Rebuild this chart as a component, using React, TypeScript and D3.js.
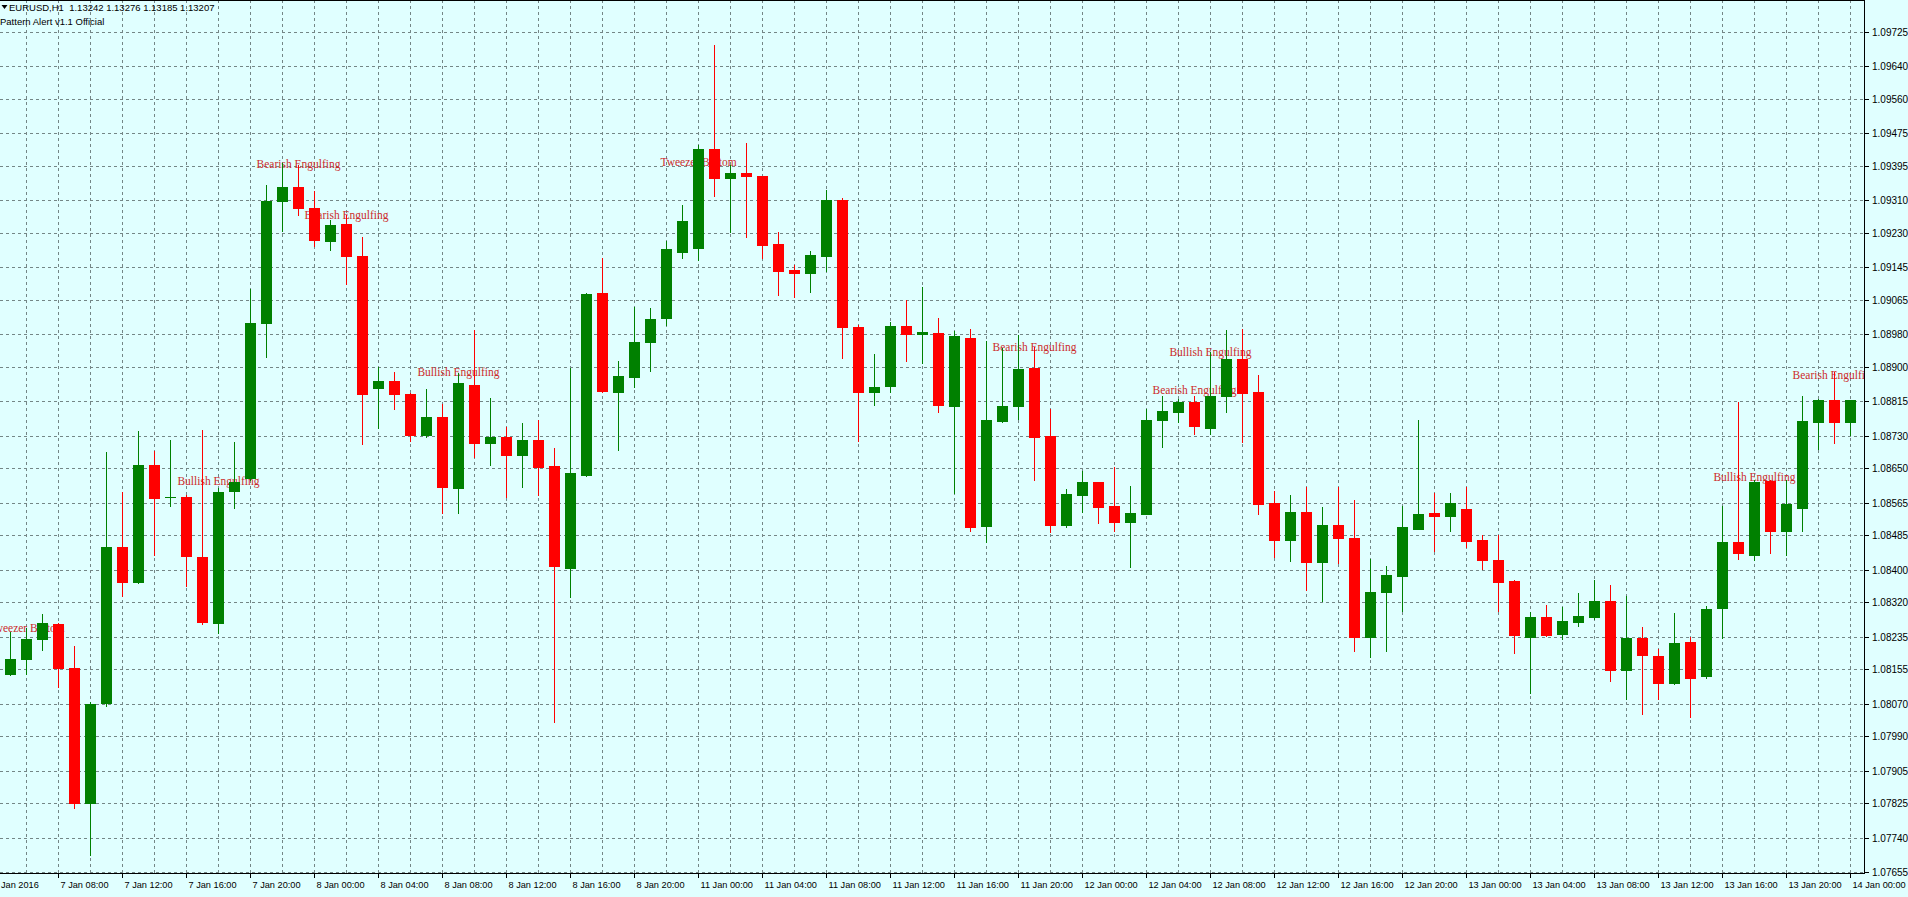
import React, { useEffect, useRef } from 'react';
import * as d3 from 'd3';

// EURUSD H1, bars from 7 Jan 05:00 to 14 Jan 00:00 (weekend skipped)
const OPEN = [
  1.08143, 1.08180, 1.08230, 1.08265, 1.08158, 1.07825, 1.08072, 1.08455, 1.08370, 1.08659,
  1.08579, 1.08579, 1.08432, 1.08269, 1.08593, 1.08625, 1.09007, 1.09309, 1.09342, 1.09292,
  1.09209, 1.09253, 1.09174, 1.08847, 1.08865, 1.08832, 1.08731, 1.08776, 1.08602, 1.08856,
  1.08712, 1.08726, 1.08683, 1.08719, 1.08655, 1.08405, 1.08633, 1.09081, 1.08839, 1.08875,
  1.08960, 1.09019, 1.09184, 1.09193, 1.09437, 1.09366, 1.09377, 1.09369, 1.09203, 1.09139,
  1.09130, 1.09174, 1.09311, 1.08999, 1.08837, 1.08852, 1.09000, 1.08982, 1.08984, 1.08803,
  1.08972, 1.08507, 1.08766, 1.08803, 1.08897, 1.08729, 1.08511, 1.08585, 1.08615, 1.08556,
  1.08517, 1.08538, 1.08769, 1.08789, 1.08814, 1.08749, 1.08827, 1.08918, 1.08839, 1.08564,
  1.08472, 1.08543, 1.08420, 1.08509, 1.08478, 1.08234, 1.08345, 1.08385, 1.08501, 1.08540,
  1.08532, 1.08550, 1.08474, 1.08424, 1.08371, 1.08235, 1.08284, 1.08241, 1.08270, 1.08284,
  1.08324, 1.08154, 1.08231, 1.08188, 1.08120, 1.08223, 1.08137, 1.08305, 1.08469, 1.08436,
  1.08618, 1.08495, 1.08553, 1.08765, 1.08818, 1.08763,
];
const HIGH = [
  1.08247, 1.08256, 1.08290, 1.08268, 1.08213, 1.08075, 1.08689, 1.08591, 1.08741, 1.08693,
  1.08719, 1.08583, 1.08744, 1.08602, 1.08714, 1.09092, 1.09347, 1.09402, 1.09398, 1.09332,
  1.09261, 1.09273, 1.09220, 1.08900, 1.08886, 1.08835, 1.08845, 1.08809, 1.08885, 1.08991,
  1.08822, 1.08752, 1.08761, 1.08768, 1.08701, 1.08898, 1.09081, 1.09167, 1.08915, 1.09048,
  1.09044, 1.09211, 1.09299, 1.09447, 1.09693, 1.09397, 1.09451, 1.09370, 1.09233, 1.09151,
  1.09186, 1.09336, 1.09315, 1.09003, 1.08932, 1.09011, 1.09065, 1.09097, 1.09020, 1.08988,
  1.08994, 1.08963, 1.08946, 1.08979, 1.08948, 1.08797, 1.08599, 1.08644, 1.08615, 1.08654,
  1.08607, 1.08797, 1.08829, 1.08821, 1.08829, 1.08936, 1.08990, 1.08994, 1.08879, 1.08594,
  1.08585, 1.08604, 1.08554, 1.08604, 1.08571, 1.08427, 1.08410, 1.08558, 1.08769, 1.08589,
  1.08590, 1.08604, 1.08486, 1.08485, 1.08375, 1.08295, 1.08314, 1.08308, 1.08343, 1.08374,
  1.08362, 1.08336, 1.08259, 1.08205, 1.08293, 1.08233, 1.08310, 1.08558, 1.08813, 1.08620,
  1.08621, 1.08620, 1.08829, 1.08820, 1.08886, 1.08818,
];
const LOW = [
  1.08140, 1.08143, 1.08202, 1.08111, 1.07812, 1.07698, 1.08065, 1.08336, 1.08366, 1.08437,
  1.08557, 1.08361, 1.08266, 1.08245, 1.08551, 1.08620, 1.08925, 1.09234, 1.09275, 1.09198,
  1.09188, 1.09103, 1.08710, 1.08748, 1.08796, 1.08717, 1.08726, 1.08540, 1.08540, 1.08677,
  1.08659, 1.08578, 1.08604, 1.08585, 1.08024, 1.08333, 1.08630, 1.08839, 1.08695, 1.08851,
  1.08890, 1.09003, 1.09167, 1.09164, 1.09322, 1.09233, 1.09221, 1.09168, 1.09077, 1.09073,
  1.09085, 1.09135, 1.08921, 1.08716, 1.08806, 1.08839, 1.08914, 1.08910, 1.08789, 1.08590,
  1.08496, 1.08468, 1.08764, 1.08772, 1.08620, 1.08493, 1.08506, 1.08542, 1.08514, 1.08496,
  1.08406, 1.08536, 1.08702, 1.08764, 1.08735, 1.08735, 1.08789, 1.08714, 1.08538, 1.08431,
  1.08421, 1.08349, 1.08322, 1.08416, 1.08199, 1.08186, 1.08199, 1.08298, 1.08500, 1.08446,
  1.08495, 1.08456, 1.08401, 1.08298, 1.08195, 1.08095, 1.08236, 1.08230, 1.08262, 1.08278,
  1.08126, 1.08081, 1.08044, 1.08081, 1.08119, 1.08036, 1.08134, 1.08231, 1.08427, 1.08423,
  1.08440, 1.08437, 1.08495, 1.08697, 1.08711, 1.08731,
];
const CLOSE = [
  1.08180, 1.08228, 1.08268, 1.08158, 1.07825, 1.08069, 1.08455, 1.08370, 1.08659, 1.08577,
  1.08580, 1.08434, 1.08271, 1.08591, 1.08617, 1.09007, 1.09308, 1.09342, 1.09292, 1.09212,
  1.09249, 1.09172, 1.08832, 1.08865, 1.08832, 1.08731, 1.08776, 1.08604, 1.08860, 1.08712,
  1.08727, 1.08683, 1.08719, 1.08654, 1.08408, 1.08638, 1.09079, 1.08841, 1.08878, 1.08962,
  1.09018, 1.09190, 1.09260, 1.09437, 1.09365, 1.09377, 1.09369, 1.09200, 1.09135, 1.09130,
  1.09176, 1.09311, 1.08999, 1.08837, 1.08850, 1.09000, 1.08981, 1.08985, 1.08806, 1.08975,
  1.08505, 1.08768, 1.08803, 1.08894, 1.08726, 1.08511, 1.08587, 1.08617, 1.08554, 1.08517,
  1.08540, 1.08769, 1.08790, 1.08814, 1.08754, 1.08829, 1.08918, 1.08835, 1.08562, 1.08474,
  1.08543, 1.08420, 1.08509, 1.08479, 1.08235, 1.08346, 1.08388, 1.08504, 1.08538, 1.08532,
  1.08565, 1.08471, 1.08423, 1.08370, 1.08238, 1.08284, 1.08240, 1.08273, 1.08286, 1.08324,
  1.08154, 1.08231, 1.08190, 1.08120, 1.08220, 1.08134, 1.08303, 1.08469, 1.08440, 1.08616,
  1.08495, 1.08563, 1.08767, 1.08818, 1.08763, 1.08817,
];

const PRICE_TICKS = [
  1.09725, 1.0964, 1.0956, 1.09475, 1.09395, 1.0931, 1.0923, 1.09145, 1.09065, 1.0898,
  1.089, 1.08815, 1.0873, 1.0865, 1.08565, 1.08485, 1.084, 1.0832, 1.08235, 1.08155,
  1.0807, 1.0799, 1.07905, 1.07825, 1.0774, 1.07655,
];

// one label every 4 bars, the first one sits on the bar before the first visible bar
const TIME_LABELS = [
  'Jan 2016', '7 Jan 08:00', '7 Jan 12:00', '7 Jan 16:00', '7 Jan 20:00',
  '8 Jan 00:00', '8 Jan 04:00', '8 Jan 08:00', '8 Jan 12:00', '8 Jan 16:00', '8 Jan 20:00',
  '11 Jan 00:00', '11 Jan 04:00', '11 Jan 08:00', '11 Jan 12:00', '11 Jan 16:00', '11 Jan 20:00',
  '12 Jan 00:00', '12 Jan 04:00', '12 Jan 08:00', '12 Jan 12:00', '12 Jan 16:00', '12 Jan 20:00',
  '13 Jan 00:00', '13 Jan 04:00', '13 Jan 08:00', '13 Jan 12:00', '13 Jan 16:00', '13 Jan 20:00',
  '14 Jan 00:00',
];

const PATTERN_BARS = [1, 13, 18, 21, 28, 43, 64, 74, 75, 109, 114];
const PATTERN_NAMES = [
  'Tweezer Bottom', 'Bullish Engulfing', 'Bearish Engulfing', 'Bearish Engulfing',
  'Bullish Engulfing', 'Tweezer Bottom', 'Bearish Engulfing', 'Bearish Engulfing',
  'Bullish Engulfing', 'Bullish Engulfing', 'Bearish Engulfing',
];
const PATTERN_PRICES = [
  1.08256, 1.08619, 1.094, 1.09275, 1.08887, 1.09405, 1.08948, 1.08843, 1.08936, 1.08628, 1.0888,
];

const WIDTH = 1908;
const HEIGHT = 897;

const App: React.FC = () => {
  const ref = useRef<SVGSVGElement | null>(null);

  useEffect(() => {
    document.body.style.margin = '0';
    if (!ref.current) return;
    const svg = d3.select(ref.current);
    svg.selectAll('*').remove();

    const plotRight = 1864;
    const plotBottom = 873;
    const uiFont = "'Liberation Sans', Arial, sans-serif";

    const x = d3.scaleLinear().domain([0, OPEN.length - 1]).range([10.5, 10.5 + 16 * (OPEN.length - 1)]);
    const y = d3.scaleLinear().domain([1.07655, 1.09725]).range([872, 32]);
    const py = (v: number) => Math.round(y(v));

    svg.append('rect').attr('width', WIDTH).attr('height', HEIGHT).attr('fill', '#e0ffff');

    svg.append('defs').append('clipPath').attr('id', 'plot-clip')
      .append('rect').attr('x', 0).attr('y', 0).attr('width', plotRight).attr('height', plotBottom);

    const plot = svg.append('g').attr('clip-path', 'url(#plot-clip)');

    // grid
    plot.selectAll('line.hgrid')
      .data(PRICE_TICKS)
      .enter()
      .append('line')
      .attr('x1', 0).attr('x2', plotRight)
      .attr('y1', (d) => py(d) + 0.5).attr('y2', (d) => py(d) + 0.5)
      .attr('stroke', '#748686').attr('stroke-dasharray', '3,3');

    plot.selectAll('line.vgrid')
      .data(d3.range(-1, OPEN.length, 2))
      .enter()
      .append('line')
      .attr('x1', (d) => x(d)).attr('x2', (d) => x(d))
      .attr('y1', 0).attr('y2', plotBottom)
      .attr('stroke', '#748686').attr('stroke-dasharray', '3,3');

    // pattern labels (under the candles)
    plot.selectAll('text.pattern')
      .data(PATTERN_BARS)
      .enter()
      .append('text')
      .attr('x', (d) => x(d))
      .attr('y', (d, i) => y(PATTERN_PRICES[i]))
      .attr('text-anchor', 'middle')
      .attr('dominant-baseline', 'central')
      .attr('font-family', "'Liberation Serif', 'Times New Roman', serif")
      .attr('font-size', 11.5)
      .attr('fill', '#cc2b2b')
      .text((d, i) => PATTERN_NAMES[i]);

    // candles
    const bars = plot.selectAll('g.bar')
      .data(OPEN.map((o, i) => ({ i, o, h: HIGH[i], l: LOW[i], c: CLOSE[i] })))
      .enter()
      .append('g');

    const colour = (d: any) => (d.c >= d.o ? '#008000' : '#ff0000');

    bars.append('line')
      .attr('x1', (d) => x(d.i)).attr('x2', (d) => x(d.i))
      .attr('y1', (d) => py(d.h)).attr('y2', (d) => py(d.l) + 1)
      .attr('stroke', colour);

    bars.append('rect')
      .attr('x', (d) => x(d.i) - 5.5)
      .attr('width', 11)
      .attr('y', (d) => py(Math.max(d.o, d.c)))
      .attr('height', (d) => py(Math.min(d.o, d.c)) - py(Math.max(d.o, d.c)) + 1)
      .attr('fill', colour);

    // frame
    svg.append('line').attr('x1', 0).attr('x2', plotRight).attr('y1', 0.5).attr('y2', 0.5).attr('stroke', '#000');
    svg.append('line').attr('x1', plotRight + 0.5).attr('x2', plotRight + 0.5).attr('y1', 0).attr('y2', plotBottom + 1).attr('stroke', '#000');
    svg.append('line').attr('x1', 0).attr('x2', plotRight + 1).attr('y1', plotBottom + 0.5).attr('y2', plotBottom + 0.5).attr('stroke', '#000');

    // price axis
    const pAxis = svg.append('g');
    pAxis.selectAll('line')
      .data(PRICE_TICKS)
      .enter()
      .append('line')
      .attr('x1', plotRight).attr('x2', plotRight + 5)
      .attr('y1', (d) => py(d) + 0.5).attr('y2', (d) => py(d) + 0.5)
      .attr('stroke', '#000');
    pAxis.selectAll('text')
      .data(PRICE_TICKS)
      .enter()
      .append('text')
      .attr('x', plotRight + 8)
      .attr('y', (d) => py(d) + 0.5)
      .attr('dominant-baseline', 'central')
      .attr('font-family', uiFont)
      .attr('font-size', 10)
      .attr('fill', '#000')
      .text((d) => d.toFixed(5));

    // time axis
    const tAxis = svg.append('g');
    const labelBar = (i: number) => -1 + 4 * i;
    tAxis.selectAll('line')
      .data(TIME_LABELS)
      .enter()
      .append('line')
      .attr('x1', (d, i) => x(labelBar(i))).attr('x2', (d, i) => x(labelBar(i)))
      .attr('y1', plotBottom).attr('y2', plotBottom + 5)
      .attr('stroke', '#000');
    tAxis.selectAll('text')
      .data(TIME_LABELS)
      .enter()
      .append('text')
      .attr('x', (d, i) => Math.max(1, x(labelBar(i)) + 2))
      .attr('y', plotBottom + 12)
      .attr('dominant-baseline', 'central')
      .attr('font-family', uiFont)
      .attr('font-size', 9.2)
      .attr('fill', '#000')
      .text((d) => d);

    // header
    svg.append('path').attr('d', 'M1.5,5 L7.5,5 L4.5,9 Z').attr('fill', '#000');
    svg.append('text')
      .attr('x', 9).attr('y', 7)
      .attr('dominant-baseline', 'central')
      .attr('font-family', uiFont).attr('font-size', 9.5)
      .style('white-space', 'pre')
      .text('EURUSD,H1  1.13242 1.13276 1.13185 1.13207');
    svg.append('text')
      .attr('x', 0).attr('y', 21)
      .attr('dominant-baseline', 'central')
      .attr('font-family', uiFont).attr('font-size', 9.5)
      .text('Pattern Alert v1.1 Official');
  }, []);

  return <svg ref={ref} width={WIDTH} height={HEIGHT} style={{ display: 'block' }}></svg>;
};

export default App;
